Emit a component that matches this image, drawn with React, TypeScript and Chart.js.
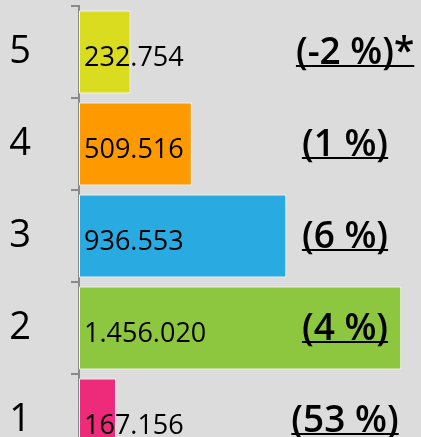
import React, { useEffect, useRef } from "react";
import { Chart, registerables } from "chart.js";

Chart.register(...registerables);

const categories = ["5", "4", "3", "2", "1"];
const values = [232754, 509516, 936553, 1456020, 167156];
const valueLabels = ["232.754", "509.516", "936.553", "1.456.020", "167.156"];
const changeLabels = ["(-2 %)*", "(1 %)", "(6 %)", "(4 %)", "(53 %)"];
const barColors = ["#d9dc1f", "#ff9900", "#29abe2", "#8dc63f", "#ee2a7b"];

const BG = "#dcdcdc";
const FONT = "'Open Sans', 'Noto Sans', sans-serif";
const W = 421;
const H = 466;

const labelPlugin = {
  id: "barLabels",
  beforeDraw(chart: any) {
    const ctx = chart.ctx;
    ctx.save();
    ctx.fillStyle = BG;
    ctx.fillRect(0, 0, chart.width, chart.height);
    ctx.restore();
  },
  afterDatasetsDraw(chart: any) {
    const ctx = chart.ctx;
    const xs = chart.scales.x;
    const ys = chart.scales.y;
    const area = chart.chartArea;
    ctx.save();
    ctx.font = `27px ${FONT}`;
    ctx.fillStyle = "#000";
    ctx.textAlign = "left";
    ctx.textBaseline = "middle";
    valueLabels.forEach((t, i) => {
      const x = xs.getPixelForValue(0) + 5;
      const y = ys.getPixelForValue(i) + 6;
      ctx.fillText(t, x, y);
    });
    ctx.font = `600 37px ${FONT}`;
    ctx.textAlign = "left";
    ctx.textBaseline = "alphabetic";
    ctx.strokeStyle = "#000";
    ctx.lineWidth = 2;
    changeLabels.forEach((t, i) => {
      const cx = area.right - 76;
      const base = ys.getPixelForValue(i) + 12;
      const core = t.replace(/\*+$/, "");
      const coreW = ctx.measureText(core).width;
      const w = ctx.measureText(t).width;
      const x0 = cx - coreW / 2;
      ctx.fillText(t, x0, base);
      ctx.beginPath();
      ctx.moveTo(x0, base + 2);
      ctx.lineTo(x0 + w, base + 2);
      ctx.stroke();
    });
    ctx.restore();
  },
};

export default function App() {
  const ref = useRef<HTMLCanvasElement | null>(null);
  useEffect(() => {
    if (!ref.current) return;
    const chart = new Chart(ref.current, {
      type: "bar",
      data: {
        labels: categories,
        datasets: [
          {
            data: values,
            backgroundColor: barColors,
            borderColor: "#ffffff",
            borderWidth: 1,
            borderSkipped: false,
            categoryPercentage: 1,
            barPercentage: 0.9,
          },
        ],
      },
      options: {
        indexAxis: "y",
        animation: false,
        responsive: false,
        devicePixelRatio: 1,
        layout: { padding: { top: 6, bottom: 0, left: 0, right: 0 } },
        plugins: { legend: { display: false }, tooltip: { enabled: false } },
        scales: {
          x: { display: false, min: 0, max: 1545000 },
          y: {
            grid: {
              offset: true,
              drawOnChartArea: false,
              drawTicks: true,
              tickLength: 8,
              color: "#8a8a8a",
              lineWidth: 2,
            },
            border: { color: "#8a8a8a", width: 2 },
            ticks: {
              font: { family: FONT, size: 38 },
              color: "#000",
              padding: 40,
            },
            afterFit: (s: any) => {
              s.width = 79;
              s.paddingTop = 0;
              s.paddingBottom = 0;
            },
          },
        },
      },
      plugins: [labelPlugin],
    });
    return () => chart.destroy();
  }, []);
  return (
    <div
      style={{
        position: "fixed",
        top: 0,
        left: 0,
        width: W,
        height: 437,
        overflow: "hidden",
        background: BG,
      }}
    >
      <canvas
        ref={ref}
        width={W}
        height={H}
        style={{ display: "block", width: W, height: H }}
      />
    </div>
  );
}
